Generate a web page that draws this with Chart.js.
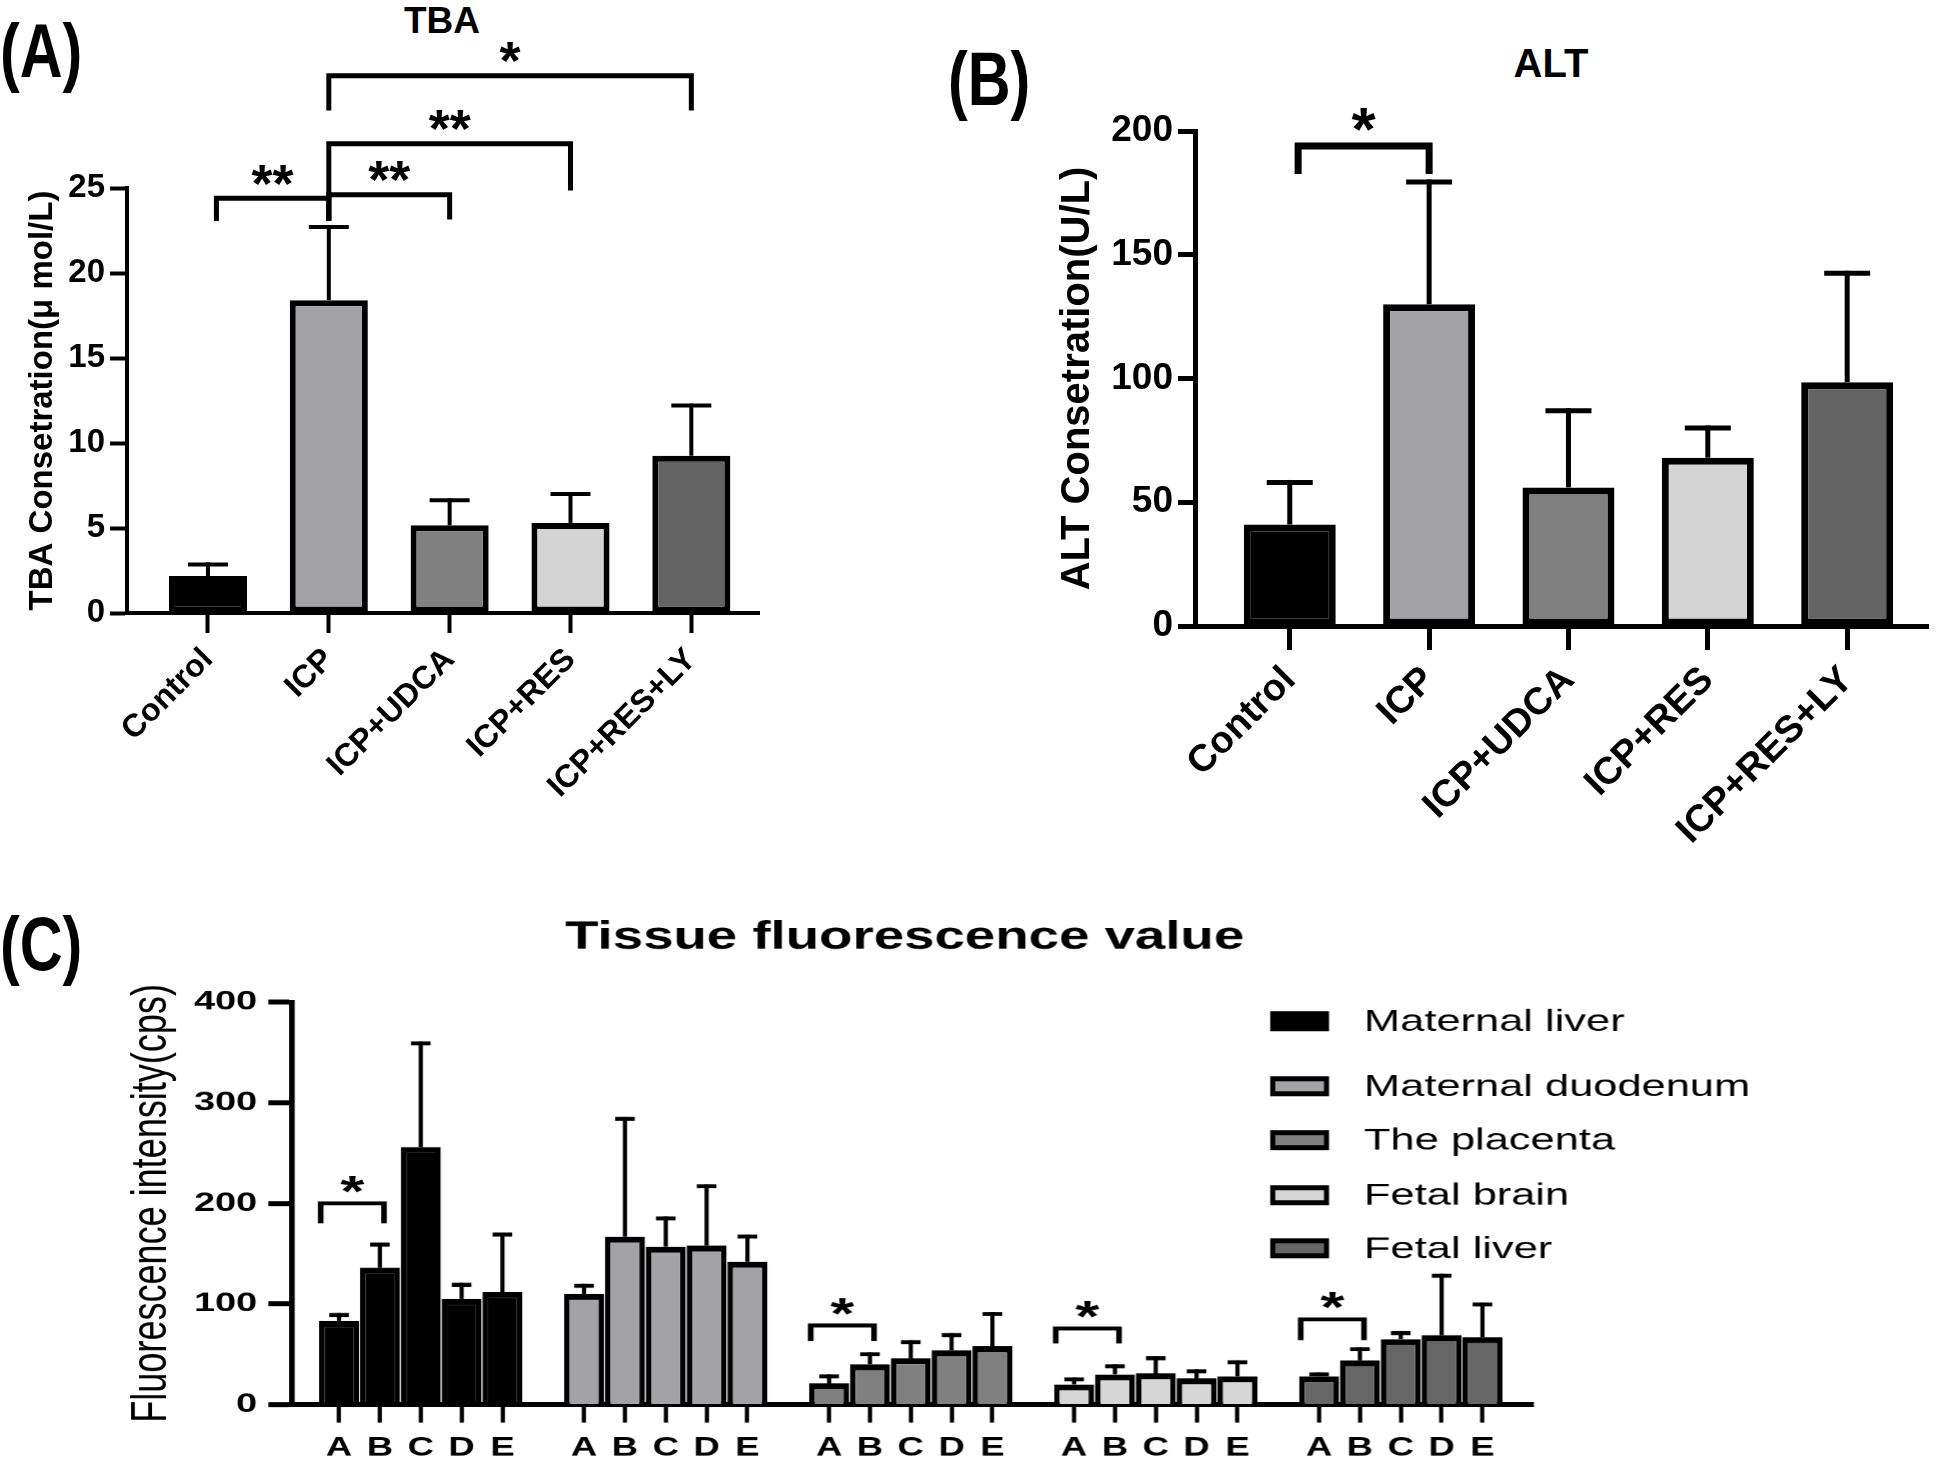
<!DOCTYPE html>
<html lang="en">
<head>
<meta charset="UTF-8">
<title>TBA, ALT and tissue fluorescence</title>
<script src="https://cdn.jsdelivr.net/npm/chart.js@4"></script>
<style>
  body { margin: 0; background: #fff; }
  #page { position: relative; width: 1944px; height: 1462px; overflow: hidden; background: #fff; font-family: 'Liberation Sans', Arial, sans-serif; color: #000; }
  .panel { position: absolute; }
  .tag { position: absolute; font-family: 'Liberation Sans', Arial, sans-serif; font-weight: bold; font-size: 76px; line-height: 1; transform: scaleX(0.78); transform-origin: 0 0; }
  .ttl { position: absolute; font-weight: bold; line-height: 1; transform: translateX(-50%); white-space: nowrap; }
</style>
</head>
<body>
<div id="page">
  <div class="tag" style="left:0;top:13px">(A)</div>
  <div class="tag" style="left:948px;top:41px">(B)</div>
  <div class="tag" style="left:0;top:906px">(C)</div>
  <div class="ttl" style="left:442px;top:2px;font-size:37px">TBA</div>
  <div class="ttl" style="left:1551px;top:43px;font-size:40px">ALT</div>
  <div class="panel" style="left:0;top:0;width:800px;height:880px"><canvas id="tba"></canvas></div>
  <div class="panel" style="left:960px;top:0;width:984px;height:880px"><canvas id="alt"></canvas></div>
  <!-- panel C is drawn narrow and stretched sideways, like the source figure -->
  <div class="panel" style="left:0;top:900px;width:1389px;height:562px;transform:scaleX(1.4);transform-origin:0 0"><canvas id="tissue"></canvas></div>
</div>
<script>
// ---- data ----
const groups = ['Control', 'ICP', 'ICP+UDCA', 'ICP+RES', 'ICP+RES+LY'];
const groupColors = ['#000000', '#a2a2a6', '#808080', '#d4d4d4', '#636363'];

const tbaMean = [2.17, 18.4, 5.16, 5.3, 9.25];
const tbaTop = [2.86, 22.7, 6.63, 7.0, 12.2];          // mean + SD
const altMean = [41, 130, 56, 68, 98.5];
const altTop = [58, 179.4, 87, 80, 142.5];

// [from x, to x, bar height, left end, right end, label]
const tbaBrackets = [
  [0.07, 1, 24.4, 23.2, 23.2, '**'],
  [1, 2, 24.6, 23.3, 23.3, '**'],
  [1, 3, 27.6, 23.2, 25.0, '**'],
  [1, 4, 31.6, 29.7, 29.7, '*']
];
const altBrackets = [
  [0.06, 1, 193.9, 184, 184, '*']
];

const letters = ['A', 'B', 'C', 'D', 'E'];
const tissues = ['Maternal liver', 'Maternal duodenum', 'The placenta', 'Fetal brain', 'Fetal liver'];
const tissueColors = ['#000000', '#a3a3a7', '#808080', '#d6d6d6', '#666666'];

const maternalLiver = [83, 136, 256, 105, 112];
const maternalLiverTop = [89, 159, 359, 119, 169];
const maternalDuodenum = [110, 167, 157, 158, 142];
const maternalDuodenumTop = [118, 284, 185, 217, 167];
const placenta = [21, 40, 46, 54, 58];
const placentaTop = [28, 50, 62, 69, 90];
const fetalBrain = [20, 30, 31, 26, 28];
const fetalBrainTop = [25, 38, 46, 33, 42];
const fetalLiver = [28, 44, 65, 69, 67];
const fetalLiverTop = [30, 55, 71, 128, 99.5];

const tissueBrackets = [
  [-0.45, 1.1, 200, 182, 182, '*'],
  [11.55, 13.1, 78.6, 65, 65, '*'],
  [17.55, 19.1, 75.6, 62.7, 62.7, '*'],
  [23.55, 25.1, 84.6, 66, 66, '*']
];

// ---- plugins ----
function errorBarPlugin(w, cap, capW) {
  return {
    id: 'errorBars',
    afterDatasetsDraw(chart) {
      const { ctx, scales: { x, y } } = chart;
      ctx.save();
      ctx.strokeStyle = '#000';
      ctx.lineCap = 'butt';
      chart.data.datasets.forEach(ds => {
        ds.data.forEach((p, i) => {
          const px = x.getPixelForValue(p.x);
          const y0 = y.getPixelForValue(p.y);
          const y1 = y.getPixelForValue(ds.errTop[i]);
          ctx.lineWidth = w;
          ctx.beginPath();
          ctx.moveTo(px, y0);
          ctx.lineTo(px, y1 - capW / 2);
          ctx.stroke();
          ctx.lineWidth = capW;
          ctx.beginPath();
          ctx.moveTo(px - cap / 2, y1);
          ctx.lineTo(px + cap / 2, y1);
          ctx.stroke();
        });
      });
      ctx.restore();
    }
  };
}

function bracketPlugin(items, lw, fontSize, gap) {
  return {
    id: 'brackets',
    afterDraw(chart) {
      const { ctx, scales: { x, y } } = chart;
      ctx.save();
      ctx.strokeStyle = '#000';
      ctx.fillStyle = '#000';
      ctx.lineWidth = lw;
      ctx.lineJoin = 'miter';
      ctx.lineCap = 'square';
      items.forEach(([a, b, top, endL, endR, label]) => {
        const xa = x.getPixelForValue(a), xb = x.getPixelForValue(b);
        const yt = y.getPixelForValue(top);
        ctx.beginPath();
        ctx.moveTo(xa, y.getPixelForValue(endL));
        ctx.lineTo(xa, yt);
        ctx.lineTo(xb, yt);
        ctx.lineTo(xb, y.getPixelForValue(endR));
        ctx.stroke();
        ctx.font = 'bold ' + fontSize + 'px "Liberation Sans", Arial, sans-serif';
        ctx.textAlign = 'center';
        ctx.textBaseline = 'alphabetic';
        ctx.fillText(label, (xa + xb) / 2, yt - gap + fontSize * 0.58);
      });
      ctx.restore();
    }
  };
}

Chart.defaults.font.family = "'Liberation Sans', Arial, sans-serif";
Chart.defaults.color = '#000';

function groupChart(id, means, tops, brackets, o) {
  return new Chart(document.getElementById(id), {
    type: 'bar',
    data: {
      datasets: [{
        data: means.map((v, i) => ({ x: i, y: v })),
        errTop: tops,
        backgroundColor: groupColors,
        borderColor: '#000',
        borderWidth: o.barBorder,
        borderSkipped: false,
        barPercentage: o.barFrac,
        categoryPercentage: 1
      }]
    },
    options: {
      responsive: true,
      maintainAspectRatio: false,
      animation: false,
      layout: { padding: o.padding },
      plugins: { legend: { display: false }, tooltip: { enabled: false } },
      scales: {
        x: {
          type: 'linear', min: o.xMin, max: o.xMax, offset: false,
          afterBuildTicks: s => { s.ticks = groups.map((g, i) => ({ value: i })); },
          afterFit: s => { s.height = o.xHeight; },
          ticks: {
            callback: v => groups[v], autoSkip: false, maxRotation: 45, minRotation: 45,
            padding: o.xPad, font: { size: o.xFont, weight: 'bold' }, color: '#000'
          },
          grid: { drawOnChartArea: false, offset: false, tickLength: o.xTick, tickWidth: o.tickW, tickColor: '#000' },
          border: { display: true, color: '#000', width: o.axisW }
        },
        y: {
          min: 0, max: o.yMax,
          afterFit: s => { s.width = o.yWidth; },
          ticks: { stepSize: o.yStep, padding: o.yPad, font: { size: o.yFont, weight: 'bold' }, color: '#000' },
          grid: { drawOnChartArea: false, tickLength: o.yTick, tickWidth: o.tickW, tickColor: '#000' },
          border: { display: true, color: '#000', width: o.axisW },
          title: {
            display: true, text: o.yTitle, color: '#000',
            font: { size: o.titleFont, weight: 'bold' }, padding: { top: o.titlePad, bottom: 0 }
          }
        }
      }
    },
    plugins: [errorBarPlugin(o.errW, o.cap, o.errW), bracketPlugin(brackets, o.brW, o.starFont, o.starGap)]
  });
}

groupChart('tba', tbaMean, tbaTop, tbaBrackets, {
  padding: { top: 188, right: 41, left: 0, bottom: 0 },
  yWidth: 127, xHeight: 267, xMin: -0.67, xMax: 4.56,
  barFrac: 0.646, barBorder: 6, yMax: 25, yStep: 5, yFont: 33, yPad: 5,
  yTick: 17, tickW: 4, axisW: 4, xTick: 20, xFont: 32, xPad: 8,
  yTitle: 'TBA Consetration(\u03bc mol/L)', titleFont: 33, titlePad: 23,
  errW: 4, cap: 40, brW: 5, starFont: 54, starGap: 28
});

groupChart('alt', altMean, altTop, altBrackets, {
  padding: { top: 131, right: 16, left: 0, bottom: 0 },
  yWidth: 235, xHeight: 254, xMin: -0.68, xMax: 4.58,
  barFrac: 0.66, barBorder: 7, yMax: 200, yStep: 50, yFont: 37, yPad: 5,
  yTick: 17, tickW: 5, axisW: 5, xTick: 24, xFont: 38, xPad: 8,
  yTitle: 'ALT Consetration(U/L)', titleFont: 40, titlePad: 94,
  errW: 5, cap: 46, brW: 7, starFont: 62, starGap: 32
});

// ---- panel C ----
const tissueMeans = [maternalLiver, maternalDuodenum, placenta, fetalBrain, fetalLiver];
const tissueTops = [maternalLiverTop, maternalDuodenumTop, placentaTop, fetalBrainTop, fetalLiverTop];
const slot = (g, j) => g * 6 + j;

const legendAndTitle = {
  id: 'legendAndTitle',
  afterDraw(chart) {
    const ctx = chart.ctx;
    const rows = [121, 186, 240, 295, 348];
    ctx.save();
    ctx.fillStyle = '#000';
    ctx.font = 'bold 39px "Liberation Sans", Arial, sans-serif';
    ctx.textAlign = 'center';
    ctx.textBaseline = 'middle';
    ctx.fillText('Tissue fluorescence value', 646, 38);
    ctx.font = '31px "Liberation Sans", Arial, sans-serif';
    ctx.textAlign = 'left';
    chart.data.datasets.forEach((ds, i) => {
      const yc = rows[i];
      ctx.fillStyle = '#000';
      ctx.fillRect(907, yc - 10, 42, 20);
      ctx.fillStyle = ds.backgroundColor;
      ctx.fillRect(910.6, yc - 5, 34.8, 10);
      ctx.fillStyle = '#000';
      ctx.fillText(ds.label, 974, yc + 1);
    });
    ctx.restore();
  }
};

new Chart(document.getElementById('tissue'), {
  type: 'bar',
  data: {
    datasets: tissues.map((name, g) => ({
      label: name,
      data: tissueMeans[g].map((v, j) => ({ x: slot(g, j), y: v })),
      errTop: tissueTops[g],
      backgroundColor: tissueColors[g],
      borderColor: '#000',
      borderWidth: { top: 6, bottom: 0, left: 4, right: 4 },
      borderSkipped: false,
      grouped: false,
      barPercentage: 1,
      categoryPercentage: 0.98
    }))
  },
  options: {
    responsive: true,
    maintainAspectRatio: false,
    animation: false,
    devicePixelRatio: 1.4,
    layout: { padding: { top: 102, right: 294, left: 0, bottom: 0 } },
    plugins: { legend: { display: false }, tooltip: { enabled: false } },
    scales: {
      x: {
        type: 'linear', min: -1.15, max: 29.25, offset: false,
        afterBuildTicks: s => { s.ticks = tissues.flatMap((t, g) => letters.map((l, j) => ({ value: slot(g, j) }))); },
        afterFit: s => { s.height = 58; },
        ticks: {
          callback: v => letters[v % 6], autoSkip: false, maxRotation: 0,
          padding: 10, font: { size: 26, weight: 'bold' }, color: '#000'
        },
        grid: { drawOnChartArea: false, offset: false, tickLength: 18, tickWidth: 3, tickColor: '#000' },
        border: { display: true, color: '#000', width: 5 }
      },
      y: {
        min: 0, max: 400,
        afterFit: s => { s.width = 208.6; },
        ticks: { stepSize: 100, padding: 8, font: { size: 27, weight: 'bold' }, color: '#000' },
        grid: { drawOnChartArea: false, tickLength: 17, tickWidth: 5, tickColor: '#000' },
        border: { display: true, color: '#000', width: 4 },
        title: {
          display: true, text: 'Fluorescence intensity(cps)', color: '#000',
          font: { size: 36 }, padding: { top: 87, bottom: 0 }
        }
      }
    }
  },
  plugins: [errorBarPlugin(3, 14, 4), bracketPlugin(tissueBrackets, 4, 44, 23), legendAndTitle]
});
</script>
</body>
</html>
